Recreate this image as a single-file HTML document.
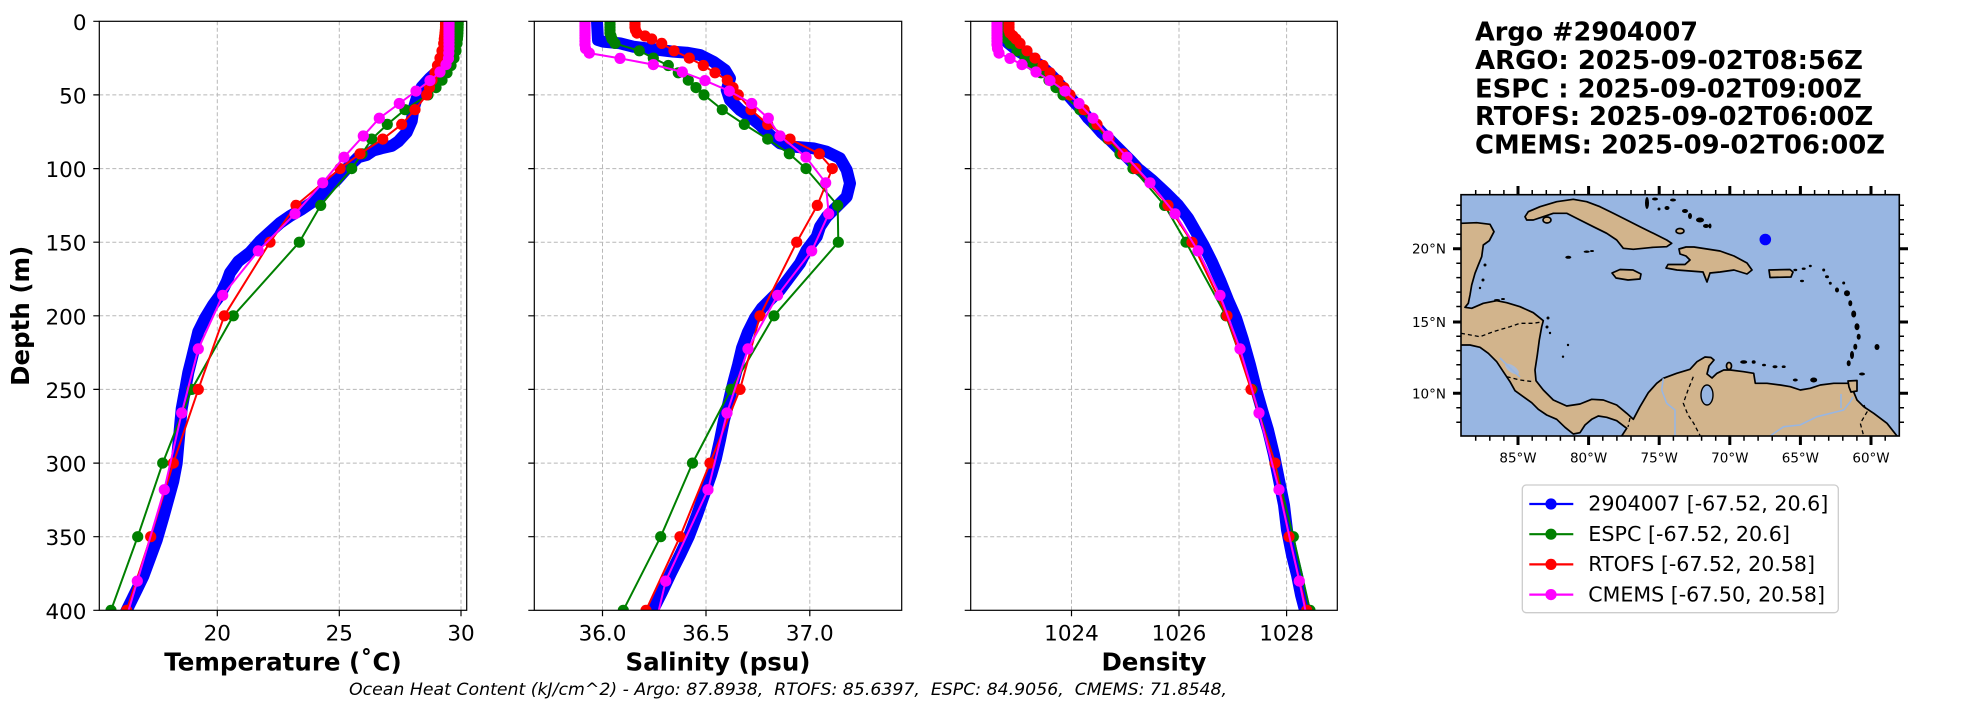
<!DOCTYPE html>
<html><head><meta charset="utf-8"><style>
html,body{margin:0;padding:0;background:#fff;}
svg{display:block;}
text{font-family:"DejaVu Sans","Liberation Sans",sans-serif;fill:#000;}
</style></head><body>
<svg width="1967" height="712" viewBox="0 0 1967 712" xmlns="http://www.w3.org/2000/svg">
<defs>
<clipPath id="cT"><rect x="99.3" y="21.3" width="367.4" height="589"/></clipPath>
<clipPath id="cS"><rect x="534.3" y="21.3" width="367.4" height="589"/></clipPath>
<clipPath id="cD"><rect x="970.7" y="21.3" width="366.6" height="589"/></clipPath>
<clipPath id="cM"><rect x="1461" y="194.7" width="438.3" height="241.3"/></clipPath>
<marker id="mG" viewBox="-6 -6 12 12" refX="0" refY="0" markerWidth="12" markerHeight="12" markerUnits="userSpaceOnUse"><circle r="5.6" fill="#008000"/></marker>
<marker id="mR" viewBox="-6 -6 12 12" refX="0" refY="0" markerWidth="12" markerHeight="12" markerUnits="userSpaceOnUse"><circle r="5.6" fill="#ff0000"/></marker>
<marker id="mM" viewBox="-6 -6 12 12" refX="0" refY="0" markerWidth="12" markerHeight="12" markerUnits="userSpaceOnUse"><circle r="5.6" fill="#ff00ff"/></marker>
</defs>
<rect width="1967" height="712" fill="#fff"/>

<!-- ============ GRIDS ============ -->
<g stroke="#b8b8b8" stroke-width="1" stroke-dasharray="4,2.5" fill="none">
<path d="M217.3,21.3V610.3M339.3,21.3V610.3M461,21.3V610.3"/>
<path d="M99.3,94.9H466.7M99.3,168.6H466.7M99.3,242.2H466.7M99.3,315.8H466.7M99.3,389.4H466.7M99.3,463.1H466.7M99.3,536.7H466.7"/>
<path d="M602.5,21.3V610.3M706,21.3V610.3M809.8,21.3V610.3"/>
<path d="M534.3,94.9H901.7M534.3,168.6H901.7M534.3,242.2H901.7M534.3,315.8H901.7M534.3,389.4H901.7M534.3,463.1H901.7M534.3,536.7H901.7"/>
<path d="M1071.5,21.3V610.3M1179,21.3V610.3M1286.6,21.3V610.3"/>
<path d="M970.7,94.9H1337.3M970.7,168.6H1337.3M970.7,242.2H1337.3M970.7,315.8H1337.3M970.7,389.4H1337.3M970.7,463.1H1337.3M970.7,536.7H1337.3"/>
</g>

<!-- ============ TEMPERATURE ============ -->
<g clip-path="url(#cT)" fill="none" stroke-linejoin="round">
<polyline stroke="#0000ff" stroke-width="12" stroke-linecap="round" points="450,21.3 448.3,46.2 446.7,59.8 440,68.9 430,77.9 421.7,87 416.7,98.3 413.3,109.7 411.7,121 406.7,132.3 398.3,141.4 391.7,145.9 381.7,148.2 373.3,150.4 366.7,155 358.3,157.2 346.7,168.6 336.7,179.9 326.7,189 315,200.3 301.7,209.3 290,216.1 280,223 270,232 260,241.1 250,252.4 238.3,261.4 230,272.8 226.7,281.8 220,295.4 213.3,304.5 205,318.1 198.3,331.7 195,345.3 191.7,358.9 188.3,372.5 185,390.6 181.7,408.7 180,426.8 178.3,445 176.7,463.1 173.3,481.2 168.3,499.3 163.3,517.4 156.7,540.1 150,558.2 143.3,576.3 136.7,589.9 130,603.5 126.7,610.3 124,616"/>
<polyline stroke="#008000" stroke-width="2" marker-start="url(#mG)" marker-mid="url(#mG)" marker-end="url(#mG)" points="458.3,21.3 458.2,24.2 458.1,27.2 458,30.1 457.9,33.1 457.7,36 457.4,39 457,43.4 456,50.8 454,58.1 451,65.5 447,72.8 442,80.2 436,87.6 428,94.9 405,109.7 387.3,124.4 371.7,139.1 362,153.8 351.7,168.6 320.7,205.4 299.3,242.2 233.3,315.8 191.7,389.4 162.7,463.1 137.7,536.7 111,610.3"/>
<polyline stroke="#ff0000" stroke-width="2" marker-start="url(#mR)" marker-mid="url(#mR)" marker-end="url(#mR)" points="445.5,21.3 445.5,24.2 445.5,27.2 445.3,30.1 445,33.1 444.7,36 444.3,39 443.7,43.4 442,50.8 440,58.1 437.5,65.5 435,72.8 432,80.2 429.5,87.6 426.7,94.9 415,109.7 401.7,124.4 382.7,139.1 360,153.8 340,168.6 296,205.4 270,242.2 224.3,315.8 198.3,389.4 173.3,463.1 150.7,536.7 126.7,610.3"/>
<polyline stroke="#ff00ff" stroke-width="2" marker-start="url(#mM)" marker-mid="url(#mM)" marker-end="url(#mM)" points="449,22 449,23.6 449,25.2 449,26.9 449,28.8 449,30.8 449,33 449,35.4 449,38.1 449,41.1 449,44.6 449,48.5 448.8,53.1 448.5,58.4 446,64.6 440,72 430,80.6 416,91.1 399.3,103.5 379.3,118.2 363.3,136 344,157.2 322.7,182.8 295,213.8 258.3,250.9 222.7,295.3 198.3,348.9 181.7,413 164.3,489.7 137.3,581.1 105,689.7"/>
</g>

<!-- ============ SALINITY ============ -->
<g clip-path="url(#cS)" fill="none" stroke-linejoin="round">
<polyline stroke="#0000ff" stroke-width="12" stroke-linecap="round" points="597,21.3 598,40 603.3,41.7 620,43.3 633.3,46.7 646.7,48.3 660,50 673.3,51.7 686.7,52.7 700,55 713.3,61.7 725,70 730,78.3 726.7,90 730,100 740,110 750,116.7 760,125 770,135 780,143.3 793.3,146.7 813.3,148.3 826.7,151.7 840,158.3 846.7,170 850,183.3 846.7,196.7 836.7,206.7 826.7,216.7 820,226.7 816.7,236.7 806.7,250 800,263.3 790,276.7 780,290 770,300 762,308 755,318 748,332 742,348 738,365 734,380 731,392 728,405 724,420 720,440 716,458 711,475 704,495 697,515 689,536 680,555 671,573 662,592 653,610 650,616"/>
<polyline stroke="#008000" stroke-width="2" marker-start="url(#mG)" marker-mid="url(#mG)" marker-end="url(#mG)" points="610,21.3 610,24.2 610,27.2 610,30.1 610,33.1 611,36 612,39 615,43.4 639.3,50.8 653.3,58.1 668.3,65.5 678.3,72.8 688.3,80.2 696,87.6 704,94.9 722.3,109.7 744.3,124.4 767.7,139.1 789.3,153.8 806,168.6 837.7,205.4 838.3,242.2 774,315.8 731,389.4 692.5,463.1 660.7,536.7 623.3,610.3"/>
<polyline stroke="#ff0000" stroke-width="2" marker-start="url(#mR)" marker-mid="url(#mR)" marker-end="url(#mR)" points="635,21.3 635,24.2 635,27.2 635.5,30.1 637,33.1 645,36 651.7,39 661.7,43.4 674,50.8 689.3,58.1 703.3,65.5 715,72.8 727.3,80.2 733,87.6 738.3,94.9 751,109.7 767.7,124.4 790,139.1 819.3,153.8 832.3,168.6 817.3,205.4 796.7,242.2 760,315.8 740,389.4 710,463.1 680,536.7 646,610.3"/>
<polyline stroke="#ff00ff" stroke-width="2" marker-start="url(#mM)" marker-mid="url(#mM)" marker-end="url(#mM)" points="585,22 585,23.6 585,25.2 585,26.9 585,28.8 585,30.8 585,33 585,35.4 585,38.1 585,41.1 585,44.6 585.5,48.5 589.3,53.1 620,58.4 653.3,64.6 682.3,72 705,80.6 729.3,91.1 751.7,103.5 768.3,118.2 780,136 806,157.2 825.7,182.8 828.7,213.8 811.7,250.9 777.6,295.3 748,348.9 727,413 708,489.7 665.7,581.1 640,689.7"/>
</g>

<!-- ============ DENSITY ============ -->
<g clip-path="url(#cD)" fill="none" stroke-linejoin="round">
<polyline stroke="#0000ff" stroke-width="12" stroke-linecap="round" points="999,21.3 1000,31 1003,36 1008,43 1018,51 1030,58 1040,65 1048,72 1056,80 1062,87 1068,95 1075,103 1082,110 1088,118 1095,125 1102,133 1110,140 1120,150 1130,160 1138,168.6 1152,180 1166,193 1178,205 1188,218 1196,232 1204,246 1212,262 1220,280 1228,300 1236,318 1243,340 1250,365 1256,389 1262,410 1268,430 1274,455 1279,480 1284,505 1287,530 1292,555 1297,575 1301,595 1305,610.3 1307,616"/>
<polyline stroke="#008000" stroke-width="2" marker-start="url(#mG)" marker-mid="url(#mG)" marker-end="url(#mG)" points="1005,21.3 1005,24.2 1005,27.2 1005,30.1 1005,33.1 1006,36 1007,39 1010,43.4 1017,50.8 1025,58.1 1033,65.5 1041,72.8 1049,80.2 1056,87.6 1063,94.9 1080,109.7 1094,124.4 1108,139.1 1120,153.8 1133,168.6 1164.6,205.4 1186,242.2 1226,315.8 1252,389.4 1275,463.1 1293.3,536.7 1310,610.3"/>
<polyline stroke="#ff0000" stroke-width="2" marker-start="url(#mR)" marker-mid="url(#mR)" marker-end="url(#mR)" points="1009,21.3 1009,24.2 1009,27.2 1009,30.1 1010,33.1 1013,36 1016,39 1020,43.4 1027,50.8 1035,58.1 1043,65.5 1050,72.8 1058,80.2 1064,87.6 1070,94.9 1084,109.7 1097,124.4 1109,139.1 1123,153.8 1136,168.6 1168,205.4 1192,242.2 1227,315.8 1251,389.4 1275,463.1 1289,536.7 1306.7,610.3"/>
<polyline stroke="#ff00ff" stroke-width="2" marker-start="url(#mM)" marker-mid="url(#mM)" marker-end="url(#mM)" points="997,22 997,23.6 997,25.2 997,26.9 997,28.8 997,30.8 997,33 997,35.4 997,38.1 997,41.1 997,44.6 997.5,48.5 999,53.1 1010,58.4 1022,64.6 1036,72 1050,80.6 1065,91.1 1079,103.5 1093,118.2 1108,136 1127,157.2 1150,182.8 1175,213.8 1198,250.9 1220,295.3 1240,348.9 1259,413 1279,489.7 1299.3,581.1 1322,689.7"/>
</g>

<!-- ============ SPINES & TICKS ============ -->
<g fill="none" stroke="#000" stroke-width="1.2">
<rect x="99.3" y="21.3" width="367.4" height="589"/>
<rect x="534.3" y="21.3" width="367.4" height="589"/>
<rect x="970.7" y="21.3" width="366.6" height="589"/>
<path d="M93.3,21.3H99.3M93.3,94.9H99.3M93.3,168.6H99.3M93.3,242.2H99.3M93.3,315.8H99.3M93.3,389.4H99.3M93.3,463.1H99.3M93.3,536.7H99.3M93.3,610.3H99.3"/>
<path d="M528.3,21.3H534.3M528.3,94.9H534.3M528.3,168.6H534.3M528.3,242.2H534.3M528.3,315.8H534.3M528.3,389.4H534.3M528.3,463.1H534.3M528.3,536.7H534.3M528.3,610.3H534.3"/>
<path d="M964.7,21.3H970.7M964.7,94.9H970.7M964.7,168.6H970.7M964.7,242.2H970.7M964.7,315.8H970.7M964.7,389.4H970.7M964.7,463.1H970.7M964.7,536.7H970.7M964.7,610.3H970.7"/>
<path d="M217.3,610.3V616.3M339.3,610.3V616.3M461,610.3V616.3"/>
<path d="M602.5,610.3V616.3M706,610.3V616.3M809.8,610.3V616.3"/>
<path d="M1071.5,610.3V616.3M1179,610.3V616.3M1286.6,610.3V616.3"/>
</g>

<!-- tick labels -->
<g font-size="21.5" text-anchor="end">
<text x="86.5" y="29.8">0</text>
<text x="86.5" y="103.4">50</text>
<text x="86.5" y="177.1">100</text>
<text x="86.5" y="250.7">150</text>
<text x="86.5" y="324.3">200</text>
<text x="86.5" y="397.9">250</text>
<text x="86.5" y="471.6">300</text>
<text x="86.5" y="545.2">350</text>
<text x="86.5" y="618.8">400</text>
</g>
<g font-size="21.5" text-anchor="middle">
<text x="217.3" y="640.3">20</text>
<text x="339.3" y="640.3">25</text>
<text x="461" y="640.3">30</text>
<text x="602.5" y="640.3">36.0</text>
<text x="706" y="640.3">36.5</text>
<text x="809.8" y="640.3">37.0</text>
<text x="1071.5" y="640.3">1024</text>
<text x="1179" y="640.3">1026</text>
<text x="1286.6" y="640.3">1028</text>
</g>

<!-- axis labels -->
<g font-size="24.5" font-weight="bold" text-anchor="middle">
<text x="283" y="670.3">Temperature (˚C)</text>
<text x="718" y="670.3">Salinity (psu)</text>
<text x="1154" y="670.3">Density</text>
<text transform="translate(29,315.8) rotate(-90)" x="0" y="0">Depth (m)</text>
</g>

<text x="349" y="695" font-size="16.5" font-style="italic" textLength="878" lengthAdjust="spacingAndGlyphs" style="white-space:pre">Ocean Heat Content (kJ/cm^2) - Argo: 87.8938,  RTOFS: 85.6397,  ESPC: 84.9056,  CMEMS: 71.8548,</text>

<!-- ============ TITLE ============ -->
<g font-size="26" font-weight="bold">
<text x="1475" y="40.7" textLength="223" lengthAdjust="spacingAndGlyphs">Argo #2904007</text>
<text x="1475" y="69.2" textLength="388" lengthAdjust="spacingAndGlyphs">ARGO: 2025-09-02T08:56Z</text>
<text x="1475" y="97.3" textLength="386.7" lengthAdjust="spacingAndGlyphs">ESPC : 2025-09-02T09:00Z</text>
<text x="1475" y="125.2" textLength="398.3" lengthAdjust="spacingAndGlyphs">RTOFS: 2025-09-02T06:00Z</text>
<text x="1475" y="153.3" textLength="410" lengthAdjust="spacingAndGlyphs">CMEMS: 2025-09-02T06:00Z</text>
</g>

<!-- ============ MAP ============ -->
<rect x="1461" y="194.7" width="438.3" height="241.3" fill="#98b6e2"/>
<g clip-path="url(#cM)" stroke-linejoin="round">
<g fill="#d2b48c" stroke="#000" stroke-width="1.7">
<path d="M1455,223.3 L1461,223.3 L1476.7,222.7 L1490,224.3 L1494,231.7 L1489.3,240.7 L1483.3,245 L1481.7,256.7 L1478.3,265 L1475,273.3 L1471.7,285 L1470,295 L1468.3,303.3 L1465,307.3 L1471.7,308.3 L1483.3,303.3 L1496.7,300.7 L1506.7,302.7 L1520,306.7 L1533.3,312.7 L1543.3,320.7 L1541.7,326.7 L1539.3,340 L1537.3,355 L1535,370 L1536,380.7 L1543.3,390 L1553.3,400 L1566.7,406 L1580,404 L1591.7,399.3 L1603.3,400 L1616.7,405 L1626.7,413.3 L1633.3,419.3 L1640,406.7 L1648.3,392.7 L1656.7,383.3 L1663.3,378.3 L1676.7,373.3 L1690,369.3 L1697,361.7 L1705,357 L1711,357.5 L1714,360 L1709,366 L1707,374 L1712,378 L1717,373.3 L1723.7,370 L1730.3,370 L1743.7,371.7 L1753.7,373.3 L1755.3,383.3 L1767,383.3 L1780.3,385 L1790.3,386.7 L1800.3,390 L1810.3,388.3 L1820.3,385 L1833.7,383.3 L1847,383.3 L1855,384 L1853.7,392 L1857,400 L1863.7,406.7 L1873.7,413.3 L1887,423.3 L1897,436 L1910,445 L1621.7,445 L1621.7,436 L1626.7,428.3 L1616.7,420.7 L1606.7,417.3 L1598.3,416 L1591.7,419.3 L1585,425 L1580,432.7 L1573.3,434 L1565,427.3 L1556.7,419.3 L1546.7,415 L1538.3,409.3 L1531.7,402.7 L1523.3,396.7 L1515,390.7 L1510,381.7 L1503.3,371.7 L1496.7,361.7 L1488.3,353.3 L1480,347.3 L1470,345 L1455,345 Z"/>
<path d="M1525,216.7 L1528.3,211.7 L1540,206.7 L1556.7,201.7 L1573.3,199.3 L1586.7,201.7 L1600,206.7 L1613.3,213.3 L1626.7,220 L1640,226.7 L1653.3,233.3 L1666.7,240 L1671.7,243.3 L1666.7,246.7 L1653.3,247.3 L1633.3,249.3 L1623.3,248.3 L1616.7,240 L1606.7,233.3 L1593.3,226.7 L1580,220 L1566.7,213.3 L1553.3,213.3 L1543.3,216.7 L1533.3,220 L1526.7,220 Z"/>
<path d="M1679,249 L1686,247 L1694,247 L1707,249 L1720,251 L1734,256 L1747,263 L1752,270 L1747,274 L1734,270 L1720,272 L1710,273 L1707,282 L1703,272 L1690,271 L1677,270 L1666,268 L1668,264.5 L1685,264.5 L1690,260 L1686,256 L1680,254 Z"/>
<path d="M1612,273 L1620,269.5 L1633,270 L1641,274 L1640,279 L1628,280 L1616,278 Z"/>
<path d="M1769,270 L1790,269.5 L1793,272 L1791,277 L1770,277.5 Z"/>
<path d="M1848,381 L1857,380.5 L1857,391 L1851,392 L1849,387 Z"/>
<ellipse cx="1547" cy="220" rx="4" ry="3"/>
<ellipse cx="1680" cy="231" rx="4" ry="2.5"/>
<ellipse cx="1729" cy="366" rx="2.5" ry="3.5"/>
</g>
<ellipse cx="1707" cy="395" rx="6" ry="10" fill="#98b6e2" stroke="#000" stroke-width="1.4"/>
<ellipse cx="1512" cy="369" rx="8" ry="3.5" fill="#a9bad6" transform="rotate(35 1512 369)"/>
<g fill="#000">
<ellipse cx="1823.7" cy="270" rx="1.5" ry="1.5"/><ellipse cx="1827" cy="276.7" rx="2" ry="1.5"/><ellipse cx="1830.3" cy="283.3" rx="1.5" ry="1.5"/><ellipse cx="1837" cy="290" rx="2" ry="2.5"/><ellipse cx="1843.7" cy="283" rx="1.5" ry="1.5"/><ellipse cx="1847" cy="293.3" rx="3" ry="3"/><ellipse cx="1850.3" cy="303.3" rx="2" ry="3"/><ellipse cx="1853.7" cy="314" rx="2.5" ry="3.5"/><ellipse cx="1857" cy="326.7" rx="2.5" ry="3.5"/><ellipse cx="1858.7" cy="336.7" rx="2" ry="3"/><ellipse cx="1855.3" cy="346.7" rx="2" ry="3"/><ellipse cx="1852" cy="355" rx="2" ry="4"/><ellipse cx="1848.7" cy="363.3" rx="2" ry="3"/><ellipse cx="1877" cy="347" rx="2.5" ry="3"/><ellipse cx="1862" cy="374" rx="3" ry="1.5"/>
<ellipse cx="1795.3" cy="270" rx="2" ry="1.2"/><ellipse cx="1803.7" cy="268.7" rx="2" ry="1.2"/><ellipse cx="1810.3" cy="266" rx="1.5" ry="1.2"/><ellipse cx="1802" cy="281" rx="2" ry="1.2"/>
<ellipse cx="1743.7" cy="362" rx="3.5" ry="1.8"/><ellipse cx="1753.7" cy="362" rx="2" ry="1.8"/><ellipse cx="1764" cy="365" rx="2" ry="1.3"/><ellipse cx="1775" cy="366.7" rx="2.5" ry="1.5"/><ellipse cx="1783.7" cy="366.7" rx="2" ry="1.3"/><ellipse cx="1795.3" cy="380" rx="2.5" ry="1.5"/><ellipse cx="1813.7" cy="380" rx="3.5" ry="2.5"/>
<ellipse cx="1497" cy="300" rx="3" ry="1"/><ellipse cx="1503" cy="299" rx="2" ry="1"/><ellipse cx="1548" cy="318" rx="1.5" ry="1.5"/><ellipse cx="1547" cy="327" rx="1.5" ry="1.5"/><ellipse cx="1550" cy="333" rx="1.2" ry="1.2"/><ellipse cx="1563" cy="356.7" rx="1.2" ry="1.2"/><ellipse cx="1568" cy="345" rx="1.2" ry="1.2"/>
<ellipse cx="1485" cy="265" rx="1.5" ry="1.5"/><ellipse cx="1483" cy="280" rx="1.5" ry="1.5"/><ellipse cx="1480" cy="288" rx="1.2" ry="1.2"/>
<ellipse cx="1568.3" cy="257.3" rx="3" ry="1.5"/><ellipse cx="1586.7" cy="251.7" rx="3" ry="1.2"/><ellipse cx="1592" cy="251" rx="2" ry="1"/>
<ellipse cx="1647" cy="203" rx="2" ry="6"/><ellipse cx="1655" cy="199" rx="3" ry="1.5"/><ellipse cx="1667" cy="208" rx="2.5" ry="2"/><ellipse cx="1673" cy="200" rx="3" ry="1.5"/><ellipse cx="1685" cy="211" rx="3" ry="2"/><ellipse cx="1690" cy="216" rx="2" ry="3"/><ellipse cx="1700" cy="220" rx="4" ry="2.5"/><ellipse cx="1706" cy="226" rx="3" ry="2"/><ellipse cx="1710" cy="226" rx="1.5" ry="2.5"/><ellipse cx="1659" cy="209" rx="1.5" ry="1.5"/>
</g>
<g fill="none" stroke="#000" stroke-width="1.3" stroke-dasharray="4,3">
<path d="M1461,333.3 L1480,336.7 L1493.3,331.7 L1510,326.7 L1520,323.3 L1533.3,323.3 L1543.3,321.7"/>
<path d="M1506.7,376.7 L1520,380 L1533.3,381.7"/>
<path d="M1693.3,376.7 L1688,390 L1683.3,403.3 L1688,415 L1693.7,423.3 L1700.3,436"/>
<path d="M1864,405 L1867,412 L1860.3,423.3 L1863.7,436"/>
<path d="M1630,418 L1628,427"/>
</g>
<g fill="none" stroke="#98b6e2" stroke-width="1.6">
<path d="M1663.3,378.3 L1661.7,390 L1666.7,403.3 L1675,410 L1675,436"/>
<path d="M1770,436 L1783.7,426.7 L1800,425 L1817,416.7 L1843.7,410 L1850,402 L1853,397"/>
<path d="M1841,394 L1841,408"/>
<path d="M1500,358 L1512,370 L1520,377"/>
</g>
<circle cx="1765.3" cy="239.5" r="5.8" fill="#0000ff"/>
</g>
<rect x="1461" y="194.7" width="438.3" height="241.3" fill="none" stroke="#000" stroke-width="1.6"/>
<!-- map ticks -->
<g stroke="#000" stroke-width="3">
<path d="M1518,194.7V186M1588.6,194.7V186M1659.2,194.7V186M1729.8,194.7V186M1800.4,194.7V186M1871,194.7V186"/>
<path d="M1518,436V445M1588.6,436V445M1659.2,436V445M1729.8,436V445M1800.4,436V445M1871,436V445"/>
<path d="M1461,248.7H1453M1461,322H1453M1461,393.3H1453"/>
<path d="M1899.3,248.7H1908M1899.3,322H1908M1899.3,393.3H1908"/>
</g>
<g stroke="#000" stroke-width="1.5">
<path d="M1475.7,194.7V190M1489.8,194.7V190M1503.9,194.7V190M1532.2,194.7V190M1546.3,194.7V190M1560.4,194.7V190M1574.5,194.7V190M1602.8,194.7V190M1616.9,194.7V190M1631,194.7V190M1645.1,194.7V190M1673.4,194.7V190M1687.5,194.7V190M1701.6,194.7V190M1715.7,194.7V190M1744,194.7V190M1758.1,194.7V190M1772.2,194.7V190M1786.3,194.7V190M1814.6,194.7V190M1828.7,194.7V190M1842.8,194.7V190M1856.9,194.7V190M1885.2,194.7V190"/>
<path d="M1475.7,436V440.7M1489.8,436V440.7M1503.9,436V440.7M1532.2,436V440.7M1546.3,436V440.7M1560.4,436V440.7M1574.5,436V440.7M1602.8,436V440.7M1616.9,436V440.7M1631,436V440.7M1645.1,436V440.7M1673.4,436V440.7M1687.5,436V440.7M1701.6,436V440.7M1715.7,436V440.7M1744,436V440.7M1758.1,436V440.7M1772.2,436V440.7M1786.3,436V440.7M1814.6,436V440.7M1828.7,436V440.7M1842.8,436V440.7M1856.9,436V440.7M1885.2,436V440.7"/>
<path d="M1461,205.3H1456.3M1461,219.8H1456.3M1461,234.2H1456.3M1461,263.2H1456.3M1461,277.6H1456.3M1461,292.1H1456.3M1461,306.5H1456.3M1461,336.3H1456.3M1461,350.6H1456.3M1461,364.8H1456.3M1461,379H1456.3M1461,407.8H1456.3M1461,422.2H1456.3"/>
<path d="M1899.3,205.3H1904M1899.3,219.8H1904M1899.3,234.2H1904M1899.3,263.2H1904M1899.3,277.6H1904M1899.3,292.1H1904M1899.3,306.5H1904M1899.3,336.3H1904M1899.3,350.6H1904M1899.3,364.8H1904M1899.3,379H1904M1899.3,407.8H1904M1899.3,422.2H1904"/>
</g>
<g font-size="13.5" text-anchor="middle">
<text x="1518" y="462.3">85°W</text>
<text x="1588.6" y="462.3">80°W</text>
<text x="1659.2" y="462.3">75°W</text>
<text x="1729.8" y="462.3">70°W</text>
<text x="1800.4" y="462.3">65°W</text>
<text x="1871" y="462.3">60°W</text>
</g>
<g font-size="13.5" text-anchor="end">
<text x="1446" y="253.7">20°N</text>
<text x="1446" y="327">15°N</text>
<text x="1446" y="398.3">10°N</text>
</g>

<!-- ============ LEGEND ============ -->
<rect x="1522.3" y="485" width="316" height="127.7" rx="4" ry="4" fill="#fff" stroke="#cccccc" stroke-width="1.3"/>
<g stroke-width="2.2">
<line x1="1529.3" y1="504" x2="1573.3" y2="504" stroke="#0000ff"/><circle cx="1551" cy="504" r="5.6" fill="#0000ff"/>
<line x1="1529.3" y1="534.2" x2="1573.3" y2="534.2" stroke="#008000"/><circle cx="1551" cy="534.2" r="5.6" fill="#008000"/>
<line x1="1529.3" y1="564.4" x2="1573.3" y2="564.4" stroke="#ff0000"/><circle cx="1551" cy="564.4" r="5.6" fill="#ff0000"/>
<line x1="1529.3" y1="594.6" x2="1573.3" y2="594.6" stroke="#ff00ff"/><circle cx="1551" cy="594.6" r="5.6" fill="#ff00ff"/>
</g>
<g font-size="20.6">
<text x="1588.3" y="510.7" textLength="240" lengthAdjust="spacingAndGlyphs">2904007 [-67.52, 20.6]</text>
<text x="1588.3" y="540.9" textLength="201.7" lengthAdjust="spacingAndGlyphs">ESPC [-67.52, 20.6]</text>
<text x="1588.3" y="571.1" textLength="226.7" lengthAdjust="spacingAndGlyphs">RTOFS [-67.52, 20.58]</text>
<text x="1588.3" y="601.3" textLength="236.7" lengthAdjust="spacingAndGlyphs">CMEMS [-67.50, 20.58]</text>
</g>
</svg>
</body></html>
